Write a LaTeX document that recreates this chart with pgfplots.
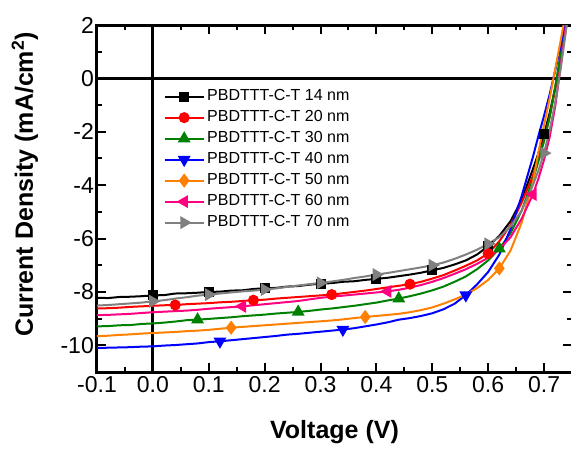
\documentclass[border=0pt]{standalone}
\usepackage{pgfplots}
\pgfplotsset{compat=1.18}
\usepackage{fontspec}
\setmainfont{Liberation Sans}
\definecolor{oorange}{RGB}{255,128,0}
\definecolor{opink}{RGB}{255,0,128}
\definecolor{ogreen}{RGB}{0,128,0}
\definecolor{ogray}{RGB}{128,128,128}
\begin{document}
\begin{tikzpicture}
\useasboundingbox (-97pt,-76pt) rectangle (474pt,372pt);
\begin{axis}[
  scale only axis, width=475pt, height=347pt,
  xmin=-0.1, xmax=0.75, ymin=-11, ymax=2,
  axis line style={line width=3pt},
  xtick={-0.1,0,0.1,0.2,0.3,0.4,0.5,0.6,0.7},
  xticklabels={-0.1,0.0,0.1,0.2,0.3,0.4,0.5,0.6,0.7},
  ytick={-10,-8,-6,-4,-2,0,2},
  yticklabels={-10,-8,-6,-4,-2,0,2},
  minor x tick num=1, minor y tick num=1,
  tick align=inside,
  major tick length=9pt, minor tick length=5pt,
  every tick/.style={line width=2pt, black},
  tick label style={font=\fontsize{23}{23}\selectfont},
  yticklabel style={inner xsep=3pt},
  xticklabel style={inner ysep=4pt},
  xlabel={Voltage (V)},
  ylabel={Current Density (mA/cm\textsuperscript{2})},
  label style={font=\fontsize{25}{25}\selectfont\bfseries},
  xlabel style={at={(axis description cs:0.5,-0.173)}, anchor=center},
  ylabel style={at={(axis description cs:-0.152,0.54)}, anchor=center},
  legend cell align=left,
  legend style={at={(axis description cs:0.140,0.815)}, anchor=north west,
    draw=none, fill=none, inner sep=0pt,
    font=\fontsize{16}{16}\selectfont,
    nodes={inner xsep=2.5pt, inner ysep=0pt, text height=11.5pt, text depth=3pt},
    row sep=6.5pt},
  legend image code/.code={\draw[mark indices={2}] plot coordinates {(0pt,0pt) (19.5pt,0pt) (39pt,0pt)};},
]
\draw[line width=3pt] (axis cs:0,-11) -- (axis cs:0,2);
\draw[line width=3pt] (axis cs:-0.1,0) -- (axis cs:0.75,0);

\addplot[black, line width=2pt, mark=square*, mark size=4pt, mark options={solid}, mark indices={6,11,16,21,26,31,36,42}] table {
x y
-0.10 -8.22
-0.08 -8.23
-0.06 -8.19
-0.04 -8.18
-0.02 -8.16
0.00 -8.13
0.02 -8.12
0.04 -8.06
0.06 -8.05
0.08 -8.03
0.10 -8.00
0.12 -7.99
0.14 -7.95
0.16 -7.94
0.18 -7.89
0.20 -7.86
0.22 -7.85
0.24 -7.80
0.26 -7.78
0.28 -7.73
0.30 -7.69
0.32 -7.67
0.34 -7.62
0.36 -7.60
0.38 -7.55
0.40 -7.51
0.42 -7.47
0.44 -7.41
0.46 -7.35
0.48 -7.28
0.50 -7.19
0.52 -7.10
0.54 -6.97
0.56 -6.82
0.58 -6.60
0.60 -6.29
0.62 -5.90
0.64 -5.35
0.66 -4.55
0.68 -3.40
0.69 -2.80
0.70 -2.10
0.71 -1.30
0.72 -0.35
0.73 0.80
0.74 2.10
0.75 3.50
};
\addlegendentry{PBDTTT-C-T 14 nm}

\addplot[red, line width=2pt, mark=*, mark size=4.5pt, mark options={solid}, mark indices={8,15,22,29,36}] table {
x y
-0.10 -8.62
-0.08 -8.61
-0.06 -8.59
-0.04 -8.56
-0.02 -8.54
0.00 -8.52
0.02 -8.50
0.04 -8.49
0.06 -8.46
0.08 -8.44
0.10 -8.42
0.12 -8.39
0.14 -8.37
0.16 -8.34
0.18 -8.31
0.20 -8.29
0.22 -8.25
0.24 -8.22
0.26 -8.19
0.28 -8.16
0.30 -8.13
0.32 -8.10
0.34 -8.05
0.36 -8.00
0.38 -7.95
0.40 -7.89
0.42 -7.83
0.44 -7.77
0.46 -7.71
0.48 -7.62
0.50 -7.50
0.52 -7.37
0.54 -7.20
0.56 -7.02
0.58 -6.82
0.60 -6.56
0.62 -6.10
0.64 -5.50
0.66 -4.65
0.68 -3.65
0.69 -3.00
0.70 -2.30
0.71 -1.45
0.72 -0.40
0.73 0.75
0.74 2.00
0.75 3.40
};
\addlegendentry{PBDTTT-C-T 20 nm}

\addplot[ogreen, line width=2pt, mark=triangle*, mark size=5.5pt, mark options={solid}, mark indices={10,19,28,37}] table {
x y
-0.10 -9.29
-0.08 -9.28
-0.06 -9.25
-0.04 -9.24
-0.02 -9.20
0.00 -9.18
0.02 -9.15
0.04 -9.11
0.06 -9.06
0.08 -9.04
0.10 -9.01
0.12 -8.98
0.14 -8.95
0.16 -8.91
0.18 -8.88
0.20 -8.85
0.22 -8.81
0.24 -8.78
0.26 -8.75
0.28 -8.71
0.30 -8.66
0.32 -8.62
0.34 -8.57
0.36 -8.52
0.38 -8.46
0.40 -8.40
0.42 -8.32
0.44 -8.25
0.46 -8.16
0.48 -8.06
0.50 -7.94
0.52 -7.80
0.54 -7.62
0.56 -7.42
0.58 -7.15
0.60 -6.82
0.62 -6.38
0.64 -5.80
0.66 -4.95
0.68 -3.80
0.69 -3.10
0.70 -2.35
0.71 -1.45
0.72 -0.30
0.73 0.95
0.74 2.30
0.75 3.70
};
\addlegendentry{PBDTTT-C-T 30 nm}

\addplot[blue, line width=2pt, mark=triangle*, mark size=5.5pt, mark options={solid, rotate=180}, mark indices={12,23,34}] table {
x y
-0.10 -10.10
-0.08 -10.09
-0.06 -10.08
-0.04 -10.07
-0.02 -10.05
0.00 -10.04
0.02 -10.01
0.04 -9.99
0.06 -9.96
0.08 -9.93
0.10 -9.88
0.12 -9.85
0.14 -9.81
0.16 -9.77
0.18 -9.73
0.20 -9.69
0.22 -9.65
0.24 -9.60
0.26 -9.57
0.28 -9.53
0.30 -9.49
0.32 -9.45
0.34 -9.41
0.36 -9.36
0.38 -9.29
0.40 -9.22
0.42 -9.14
0.44 -9.04
0.46 -8.98
0.48 -8.90
0.50 -8.80
0.52 -8.65
0.54 -8.44
0.56 -8.12
0.58 -7.72
0.60 -7.25
0.62 -6.60
0.64 -5.65
0.66 -4.40
0.68 -2.95
0.69 -2.15
0.70 -1.40
0.71 -0.60
0.72 0.30
0.73 1.25
0.74 2.25
0.75 3.40
};
\addlegendentry{PBDTTT-C-T 40 nm}

\addplot[oorange, line width=2pt, mark=diamond*, mark size=5.5pt, mark options={solid}, mark indices={13,25,37}] table {
x y
-0.10 -9.66
-0.08 -9.64
-0.06 -9.61
-0.04 -9.59
-0.02 -9.56
0.00 -9.54
0.02 -9.52
0.04 -9.50
0.06 -9.47
0.08 -9.45
0.10 -9.42
0.12 -9.38
0.14 -9.34
0.16 -9.31
0.18 -9.28
0.20 -9.25
0.22 -9.22
0.24 -9.19
0.26 -9.16
0.28 -9.13
0.30 -9.10
0.32 -9.07
0.34 -9.03
0.36 -8.98
0.38 -8.94
0.40 -8.90
0.42 -8.86
0.44 -8.82
0.46 -8.76
0.48 -8.68
0.50 -8.58
0.52 -8.44
0.54 -8.28
0.56 -8.10
0.58 -7.86
0.60 -7.55
0.62 -7.12
0.64 -6.45
0.66 -5.40
0.68 -3.90
0.69 -2.75
0.70 -1.75
0.71 -0.75
0.72 0.35
0.73 1.45
0.74 2.60
0.75 3.80
};
\addlegendentry{PBDTTT-C-T 50 nm}

\addplot[opink, line width=2pt, mark=triangle*, mark size=5.5pt, mark options={solid, rotate=90}, mark indices={14,27,40}] table {
x y
-0.10 -8.87
-0.08 -8.86
-0.06 -8.84
-0.04 -8.82
-0.02 -8.79
0.00 -8.76
0.02 -8.74
0.04 -8.72
0.06 -8.70
0.08 -8.67
0.10 -8.63
0.12 -8.60
0.14 -8.57
0.16 -8.54
0.18 -8.50
0.20 -8.46
0.22 -8.42
0.24 -8.38
0.26 -8.34
0.28 -8.28
0.30 -8.22
0.32 -8.18
0.34 -8.14
0.36 -8.10
0.38 -8.06
0.40 -8.02
0.42 -7.98
0.44 -7.92
0.46 -7.84
0.48 -7.74
0.50 -7.62
0.52 -7.48
0.54 -7.32
0.56 -7.15
0.58 -6.95
0.60 -6.72
0.62 -6.40
0.64 -5.95
0.66 -5.25
0.68 -4.35
0.69 -3.75
0.70 -3.05
0.71 -2.20
0.72 -1.05
0.73 0.50
0.74 2.10
0.75 3.60
};
\addlegendentry{PBDTTT-C-T 60 nm}

\addplot[ogray, line width=2pt, mark=triangle*, mark size=5.5pt, mark options={solid, rotate=-90}, mark indices={6,11,16,21,26,31,36,42}] table {
x y
-0.10 -8.51
-0.08 -8.49
-0.06 -8.46
-0.04 -8.43
-0.02 -8.40
0.00 -8.35
0.02 -8.31
0.04 -8.25
0.06 -8.20
0.08 -8.14
0.10 -8.10
0.12 -8.06
0.14 -8.02
0.16 -7.98
0.18 -7.95
0.20 -7.91
0.22 -7.87
0.24 -7.81
0.26 -7.76
0.28 -7.71
0.30 -7.66
0.32 -7.61
0.34 -7.55
0.36 -7.48
0.38 -7.42
0.40 -7.35
0.42 -7.29
0.44 -7.22
0.46 -7.15
0.48 -7.08
0.50 -7.00
0.52 -6.90
0.54 -6.76
0.56 -6.60
0.58 -6.42
0.60 -6.20
0.62 -5.95
0.64 -5.55
0.66 -4.95
0.68 -4.00
0.69 -3.45
0.70 -2.80
0.71 -1.95
0.72 -0.90
0.73 0.40
0.74 1.90
0.75 3.40
};
\addlegendentry{PBDTTT-C-T 70 nm}
\end{axis}
\end{tikzpicture}
\end{document}
